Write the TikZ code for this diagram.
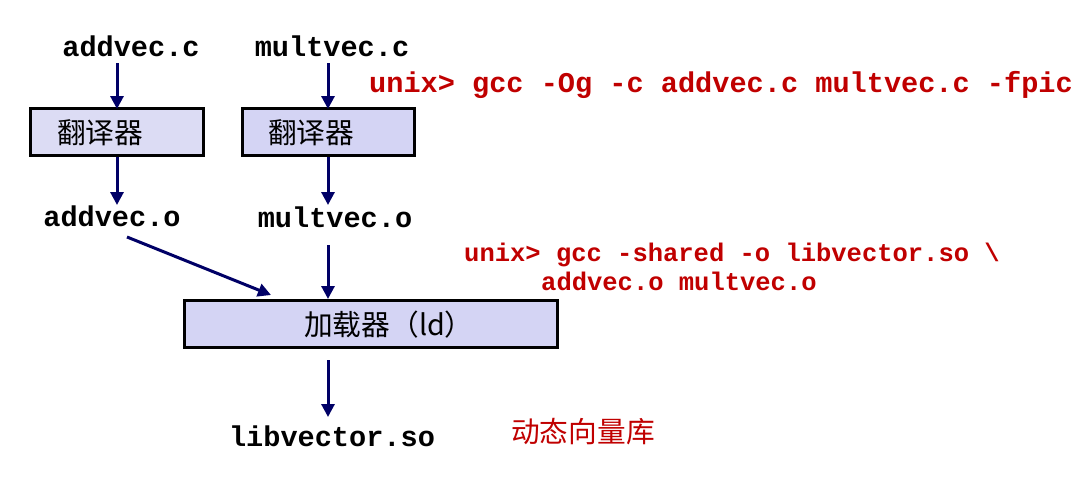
\documentclass[tikz,border=0pt]{standalone}
\usepackage{fontspec}
\setmonofont{Liberation Mono}
\newfontfamily\cjk{Noto Sans CJK SC}
\usetikzlibrary{arrows.meta}
\definecolor{navy}{HTML}{000066}
\definecolor{cmdred}{HTML}{C00000}
\definecolor{boxa}{HTML}{DCDCF4}
\definecolor{boxb}{HTML}{D4D4F4}
\tikzset{
  file/.style={font=\fontsize{28.6}{30}\selectfont\ttfamily\bfseries, inner sep=0pt, anchor=base},
  cmd/.style={font=\fontsize{28.6}{30}\selectfont\ttfamily\bfseries, text=cmdred, inner sep=0pt, anchor=base west},
  cmdb/.style={font=\fontsize{25.5}{28}\selectfont\ttfamily\bfseries, text=cmdred, inner sep=0pt, anchor=base west},
  proc/.style={draw=black, line width=3pt, inner sep=0pt},
  cjktext/.style={font=\fontsize{28.7}{30}\selectfont\cjk, inner sep=0pt},
  flow/.style={draw=navy, line width=3pt, -{Triangle[length=13pt,width=13pt]}},
}
\begin{document}
\begin{tikzpicture}[x=1pt,y=-1pt]
\useasboundingbox (0,0) rectangle (1087,477);
% files
\node[file] (ac) at (131,56) {addvec.c};
\node[file] (mc) at (332,56) {multvec.c};
\node[file] (ao) at (112,226) {addvec.o};
\node[file] (mo) at (335,227) {multvec.o};
\node[file] (lib) at (332,446) {libvector.so};
% boxes
\node[proc, fill=boxa, minimum width=173pt, minimum height=47pt] (t1) at (116.5,132) {};
\node[cjktext, anchor=west] (t1l) at (57,133) {翻译器};
\node[proc, fill=boxb, minimum width=172pt, minimum height=47pt] (t2) at (328,132) {};
\node[cjktext, anchor=west] (t2l) at (268,133) {翻译器};
\node[proc, fill=boxb, minimum width=373pt, minimum height=47pt] (ld) at (370.5,324) {};
\node[cjktext, anchor=west] (ldl) at (304,325) {加载器（ld）};
% commands
\node[cmd] (c1) at (369,92) {unix> gcc -Og -c addvec.c multvec.c -fpic};
\node[cmdb] (c2) at (464,261) {unix> gcc -shared -o libvector.so \textbackslash};
\node[cmdb] (c3) at (541,290) {addvec.o multvec.o};
\node[cjktext, text=cmdred, anchor=west] (dyn) at (511,432) {动态向量库};
% coordinates for arrows
\coordinate (a1s) at (117,63); \coordinate (a1e) at (117,109);
\coordinate (a2s) at (328,63); \coordinate (a2e) at (328,109);
\coordinate (a3s) at (117,157); \coordinate (a3e) at (117,205);
\coordinate (a4s) at (328,157); \coordinate (a4e) at (328,205);
\coordinate (a5s) at (127,237); \coordinate (a5e) at (271,295);
\coordinate (a6s) at (328,245); \coordinate (a6e) at (328,299);
\coordinate (a7s) at (328,360); \coordinate (a7e) at (328,417);
\draw[flow] (a1s) -- (a1e);
\draw[flow] (a2s) -- (a2e);
\draw[flow] (a3s) -- (a3e);
\draw[flow] (a4s) -- (a4e);
\draw[flow] (a5s) -- (a5e);
\draw[flow] (a6s) -- (a6e);
\draw[flow] (a7s) -- (a7e);
\end{tikzpicture}
\end{document}
